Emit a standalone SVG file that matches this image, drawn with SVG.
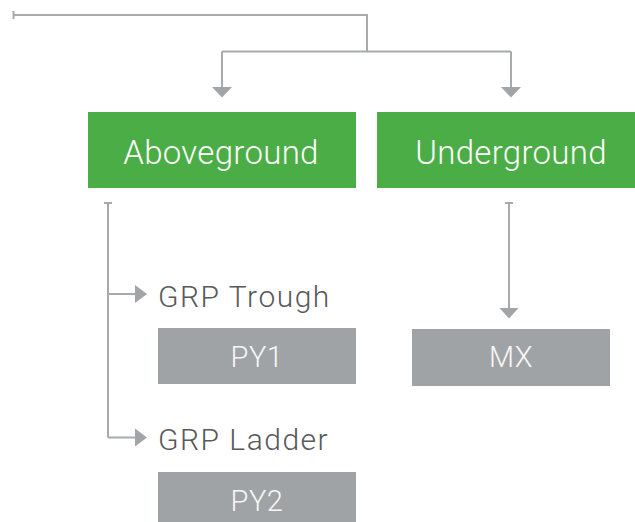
<svg xmlns="http://www.w3.org/2000/svg" width="635" height="522" viewBox="0 0 635 522">
<style>
.con{fill:none;stroke:#a7a9ac;stroke-width:2}
.head{fill:#a2a5a8}
.green{fill:#4bad45}
.gray{fill:#a0a3a6}
.t{font-family:Roboto,"Liberation Sans",sans-serif;font-weight:300}
.gt{fill:#ffffff;font-size:33px;letter-spacing:0.3px;text-anchor:middle}
.bt{fill:#f7f7f7;font-size:29px;letter-spacing:0.5px;text-anchor:middle}
.lt{fill:#58595b;font-size:30px;letter-spacing:1.5px}
</style>
<rect width="635" height="522" fill="#ffffff"/>
<g id="connectors">
<path class="con" d="M13.5 11V19M13.5 15H367V51.5M222 51.5H511M222 51.5V88M511 51.5V88"/>
<polygon class="head" points="212,87 232,87 222,97.5"/>
<polygon class="head" points="501,87 521,87 511,97.5"/>
<path class="con" d="M104 203H112M108 203V437.5M108 294H136M108 437.5H136"/>
<polygon class="head" points="135,285 135,303 147,294"/>
<polygon class="head" points="135,428.5 135,446.5 147,437.5"/>
<path class="con" d="M505 203H513M509 203V309"/>
<polygon class="head" points="499.5,308 518.5,308 509,318.5"/>
</g>
<g id="aboveground">
<rect class="green" x="88" y="112" width="268" height="76"/>
<text class="t gt" x="221" y="164">Aboveground</text>
</g>
<g id="underground">
<rect class="green" x="377" y="112" width="268" height="76"/>
<text class="t gt" x="511" y="164">Underground</text>
</g>
<g id="grp-trough">
<text class="t lt" x="158" y="307">GRP Trough</text>
</g>
<g id="py1">
<rect class="gray" x="158" y="328" width="198" height="56"/>
<text class="t bt" x="257" y="367">PY1</text>
</g>
<g id="grp-ladder">
<text class="t lt" x="158" y="450">GRP Ladder</text>
</g>
<g id="py2">
<rect class="gray" x="158" y="472" width="198" height="56"/>
<text class="t bt" x="257" y="511">PY2</text>
</g>
<g id="mx">
<rect class="gray" x="412" y="329" width="198" height="57"/>
<text class="t bt" x="511" y="367">MX</text>
</g>
</svg>
